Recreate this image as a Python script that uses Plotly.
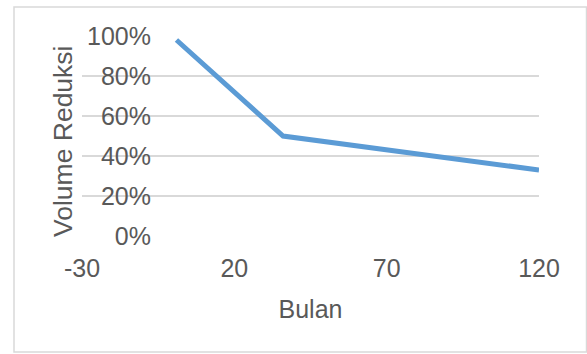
import plotly.graph_objects as go

bulan = [1, 36, 120]
volume_reduksi = [0.98, 0.50, 0.33]
x_ticks = [-30, 20, 70, 120]
x_tick_labels = ["-30", "20", "70", "120"]
y_ticks = [0, 0.2, 0.4, 0.6, 0.8, 1.0]
y_tick_labels = ["0%", "20%", "40%", "60%", "80%", "100%"]

W, H = 587, 354
L, R, T, B = 82, 48, 36, 118
pw, ph = W - L - R, H - T - B

fig = go.Figure()
fig.add_trace(go.Scatter(
    x=bulan, y=volume_reduksi, mode="lines",
    line=dict(color="#5B9BD5", width=5),
    showlegend=False, hoverinfo="skip",
))

font = dict(family="Liberation Sans, Arial, sans-serif", size=25, color="#595959")

fig.update_layout(
    width=W, height=H,
    margin=dict(l=L, r=R, t=T, b=B, autoexpand=False),
    paper_bgcolor="white", plot_bgcolor="white",
    font=font,
    xaxis=dict(
        range=[-30, 120], tickvals=x_ticks, ticktext=x_tick_labels,
        showgrid=False, zeroline=False,
        showline=False, ticks="", tickfont=font, ticklabelstandoff=15,
        title=dict(text="Bulan", font=font, standoff=19),
        automargin=False,
    ),
    yaxis=dict(
        range=[0, 1], tickvals=y_ticks, ticktext=y_tick_labels,
        showgrid=True, gridcolor="#D9D9D9", gridwidth=1.5, zeroline=False,
        showline=False, ticks="", tickfont=font,
        ticklabelstandoff=-70,
        automargin=False,
    ),
    annotations=[dict(
        text="Volume Reduksi", textangle=-90, showarrow=False,
        xref="paper", yref="paper",
        x=(63 - L) / pw, y=(H - B - 141) / ph,
        xanchor="center", yanchor="middle",
        font=dict(family=font["family"], size=26.5, color="#595959"),
    )],
)

# outer chart border
fig.add_shape(
    type="rect", xref="paper", yref="paper",
    x0=(14 - L) / pw, x1=(586.5 - L) / pw,
    y0=(H - B - 352) / ph, y1=(H - B - 7) / ph,
    line=dict(color="#D9D9D9", width=1.5), fillcolor="rgba(0,0,0,0)", layer="below",
)

fig.write_html("out.html")
